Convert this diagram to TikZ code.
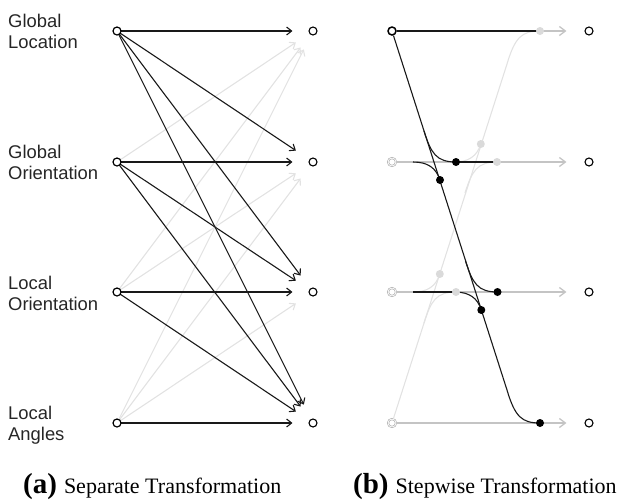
\documentclass[tikz,border=0pt]{standalone}
\usepackage{fontspec}
\setmainfont{Liberation Serif}
\newfontfamily\labelfont{Liberation Sans}
\usetikzlibrary{arrows.meta}
\definecolor{lightline}{HTML}{E2E2E2}
\definecolor{rowgray}{HTML}{C4C4C4}
\definecolor{dotgray}{HTML}{DADADA}
\definecolor{ringgray}{HTML}{A8A8A8}
\begin{document}
\begin{tikzpicture}[x=1pt,y=-1pt,
  srca/.style={circle,draw=black,line width=1.2pt,minimum size=8pt,inner sep=0pt,fill=white},
  srcgray/.style={circle,draw=ringgray,line width=0.6pt,double=white,double distance=0.8pt,minimum size=8pt,inner sep=0pt,fill=white},
  tgt/.style={circle,draw=black,line width=1.1pt,minimum size=8pt,inner sep=0pt},
  blk/.style={draw=black!90,line width=1.1pt,-{Straight Barb[length=5pt,width=8pt]},shorten >=16pt},
  lgt/.style={draw=lightline,line width=1.1pt,-{Straight Barb[length=5pt,width=8pt]},shorten >=16pt},
  rowarrow/.style={draw=rowgray,line width=1.3pt,-{Straight Barb[length=6pt,width=9pt]},shorten >=18pt},
  bline/.style={draw=black!90,line width=1.1pt},
  gline/.style={draw=lightline,line width=1.1pt},
  kdot/.style={circle,fill=black,minimum size=8pt,inner sep=0pt},
  gdot/.style={circle,fill=dotgray,minimum size=8pt,inner sep=0pt},
  lbl/.style={font=\labelfont\fontsize{18.4}{21}\selectfont,align=left,anchor=base west,inner sep=0pt,text=black!85},
  captext/.style={anchor=base west,inner sep=0pt}
]
\useasboundingbox (0,0) rectangle (629,499);

% ---------- labels (anchor = baseline of last line) ----------
\node[lbl] (l1) at (8,48) {Global\\Location};
\node[lbl] (l2) at (8,179) {Global\\Orientation};
\node[lbl] (l3) at (8,310) {Local\\Orientation};
\node[lbl] (l4) at (8,440) {Local\\Angles};

% ---------- panel (a) ----------
\foreach \i/\y in {1/31,2/162,3/292,4/423}{
  \node[tgt] (ta\i) at (313,\y) {};
}
\foreach \i/\y in {1/31,2/162,3/292,4/423}{
  \coordinate (pa\i) at (117,\y);
}
% gray (upward) arrows
\draw[lgt] (pa2) -- (ta1);
\draw[lgt] (pa3) -- (ta1);
\draw[lgt] (pa3) -- (ta2);
\draw[lgt] (pa4) -- (ta1);
\draw[lgt] (pa4) -- (ta2);
\draw[lgt] (pa4) -- (ta3);
% black arrows
\draw[blk] (pa1) -- (ta1);
\draw[blk] (pa1) -- (ta2);
\draw[blk] (pa1) -- (ta3);
\draw[blk] (pa1) -- (ta4);
\draw[blk] (pa2) -- (ta2);
\draw[blk] (pa2) -- (ta3);
\draw[blk] (pa2) -- (ta4);
\draw[blk] (pa3) -- (ta3);
\draw[blk] (pa3) -- (ta4);
\draw[blk] (pa4) -- (ta4);
\foreach \i/\y in {1/31,2/162,3/292,4/423}{
  \node[srca] (sa\i) at (117,\y) {};
}

% ---------- panel (b) ----------
\foreach \i/\y in {1/31,2/162,3/292,4/423}{
  \node[tgt] (tb\i) at (589,\y) {};
}
\node[srca,line width=1.5pt] (b1) at (392,31) {};
\node[srcgray] (b2) at (392,162) {};
\node[srcgray] (b3) at (392,292) {};
\node[srcgray] (b4) at (392,423) {};

% dot positions
\coordinate (g1) at (540,31);
\coordinate (g2a) at (497,162);
\coordinate (g2b) at (480.8,144);
\coordinate (g3a) at (456,292);
\coordinate (g3b) at (439.8,274);
\coordinate (k2a) at (456,162);
\coordinate (k2b) at (440,180);
\coordinate (k3a) at (497.5,292);
\coordinate (k3b) at (481.3,310);
\coordinate (k4) at (540,423);

% gray rows
\draw[rowarrow] (b2) -- (tb2);
\draw[rowarrow] (b3) -- (tb3);
\draw[rowarrow] (b4) -- (tb4);
\draw[rowarrow] (g1) -- (tb1);

% gray diagonal and branches
\draw[gline] (b4) -- (507,64) .. controls (515,37) and (522,31) .. (g1);
\draw[gline] (465,193) .. controls (472,171) and (477,162) .. (g2a);
\draw[gline] (454,162) .. controls (469,162) and (477,156) .. (g2b);
\draw[gline] (424,323) .. controls (431,301) and (436,292) .. (g3a);
\draw[gline] (413,292) .. controls (428,292) and (436,286) .. (g3b);

% black diagonal and branches
\draw[bline] (b1) -- (g1);
\draw[bline] (b1) -- (507,390) .. controls (515,417) and (522,423) .. (k4);
\draw[bline] (424,131) .. controls (431,153) and (436,162) .. (k2a);
\draw[bline] (413,162) .. controls (428,162) and (436,168) .. (k2b);
\draw[bline] (k2a) -- (g2a);
\draw[bline] (465.5,261) .. controls (472.5,283) and (477.5,292) .. (k3a);
\draw[bline] (454.5,292) .. controls (469.5,292) and (477.5,298) .. (k3b);
\draw[bline] (413,292) -- (g3a);

% dots
\node[gdot] (dg1) at (g1) {};
\node[gdot] (dg2a) at (g2a) {};
\node[gdot] (dg2b) at (g2b) {};
\node[gdot] (dg3a) at (g3a) {};
\node[gdot] (dg3b) at (g3b) {};
\node[kdot] (dk2a) at (k2a) {};
\node[kdot] (dk2b) at (k2b) {};
\node[kdot] (dk3a) at (k3a) {};
\node[kdot] (dk3b) at (k3b) {};
\node[kdot] (dk4) at (k4) {};

% ---------- captions ----------
\node[captext] (capa) at (23,493) {\fontsize{29}{29}\selectfont\bfseries (a)\hspace{7pt}\fontsize{22}{22}\selectfont\mdseries Separate Transformation};
\node[captext] (capb) at (353,493) {\fontsize{29}{29}\selectfont\bfseries (b)\hspace{7pt}\fontsize{22}{22}\selectfont\mdseries Stepwise Transformation};
\end{tikzpicture}
\end{document}
